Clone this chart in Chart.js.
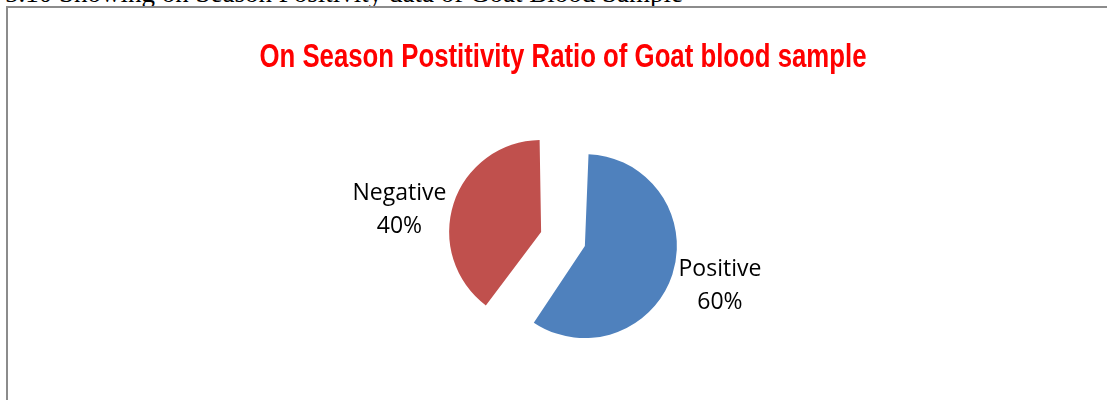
<!DOCTYPE html>
<html>
<head>
<meta charset="utf-8">
<script src="https://cdn.jsdelivr.net/npm/chart.js@4/dist/chart.umd.min.js"></script>
<style>
  html, body { margin: 0; padding: 0; background: #fff; overflow: hidden; }
  #caption {
    position: absolute; right: 424px; top: -20px;
    font-family: "Liberation Serif", "Times New Roman", serif; font-size: 27px;
    line-height: 27px; white-space: nowrap; color: #000;
  }
  #frame {
    position: absolute; left: 6px; top: 6px; width: 1200px; height: 500px;
    border: 2px solid #8c8c8c;
  }
  #wrap { position: absolute; left: 0; top: 0; width: 1107px; height: 400px; }
</style>
</head>
<body>
<div id="caption">Table 5.10 Showing on Season Positivity data of Goat Blood Sample</div>
<div id="frame"></div>
<div id="wrap"><canvas id="myPieChart"></canvas></div>
<script>
var chartTitle = 'On Season Postitivity Ratio of Goat blood sample';
var categories = ['Positive', 'Negative'];
var values = [60, 40];
var percentLabels = ['60%', '40%'];
var sliceColors = ['#4F81BD', '#C0504D'];

// tiêu đề kiểu chữ hẹp (ép ngang cho giống font gốc)
var narrowTitle = {
    id: 'narrowTitle',
    afterDraw: function (chart, args, opts) {
        var ctx = chart.ctx;
        var area = chart.chartArea;
        var cx = (area.left + area.right) / 2;
        ctx.save();
        ctx.font = 'bold ' + opts.size + 'px ' + opts.family;
        ctx.fillStyle = opts.color;
        ctx.textAlign = 'center';
        ctx.textBaseline = 'alphabetic';
        var w = ctx.measureText(opts.text).width;
        var sx = opts.width / w;
        ctx.translate(cx, opts.baseline);
        ctx.scale(sx, 1);
        ctx.fillText(opts.text, 0, 0);
        ctx.restore();
    }
};

// chart.js phóng to bán kính lát bị tách (offset/4 * fix) -> bù lại cho đều
function radiusFix(arc) {
    var off = (arc.options.offset || 0) / 4;
    var circ = arc.endAngle - arc.startAngle;
    return off * (1 - Math.sin(Math.min(Math.PI, circ)));
}

// vẽ nhãn ngoài lát bánh (tên + phần trăm)
var outsideLabels = {
    id: 'outsideLabels',
    beforeDatasetsDraw: function (chart) {
        chart.getDatasetMeta(0).data.forEach(function (arc) {
            arc._realRadius = arc.outerRadius;
            arc.outerRadius = arc.outerRadius - radiusFix(arc);
        });
    },
    afterDatasetsDraw: function (chart, args, opts) {
        var ctx = chart.ctx;
        var meta = chart.getDatasetMeta(0);
        ctx.save();
        ctx.font = opts.size + 'px ' + opts.family;
        ctx.fillStyle = '#000';
        ctx.textAlign = 'center';
        ctx.textBaseline = 'middle';
        meta.data.forEach(function (arc, i) {
            arc.outerRadius = arc._realRadius;
            var mid = (arc.startAngle + arc.endAngle) / 2;
            var off = (arc.options.offset || 0) / 4; // chart.js dịch lát đi offset/4
            var d = off + arc.outerRadius + opts.gap[i];
            var x = arc.x + Math.cos(mid) * d + opts.nudge[i][0];
            var y = arc.y + Math.sin(mid) * d + opts.nudge[i][1];
            ctx.fillText(categories[i], x, y - opts.lineGap / 2);
            ctx.fillText(percentLabels[i], x, y + opts.lineGap / 2);
        });
        ctx.restore();
    }
};

var ctx = document.getElementById('myPieChart').getContext('2d');
var myPieChart = new Chart(ctx, {
    type: 'pie',
    data: {
        labels: categories,
        datasets: [{
            data: values,
            backgroundColor: sliceColors,
            borderWidth: 0,
            offset: 92,
            radius: 92
        }]
    },
    options: {
        responsive: true,
        maintainAspectRatio: false,
        animation: false,
        layout: { padding: { left: 19, right: 0, top: 88, bottom: 10 } },
        plugins: {
            legend: { display: false },
            tooltip: { enabled: false },
            title: { display: false },
            narrowTitle: {
                text: chartTitle,
                color: '#FF0000',
                family: '"Liberation Sans", Arial, sans-serif',
                size: 34,
                width: 607,
                baseline: 67
            },
            outsideLabels: {
                family: '"Open Sans", sans-serif',
                size: 23,
                lineGap: 33,
                gap: [50, 57],
                nudge: [[0, -4], [0, 24]]
            }
        }
    },
    plugins: [narrowTitle, outsideLabels]
});
</script>
</body>
</html>
